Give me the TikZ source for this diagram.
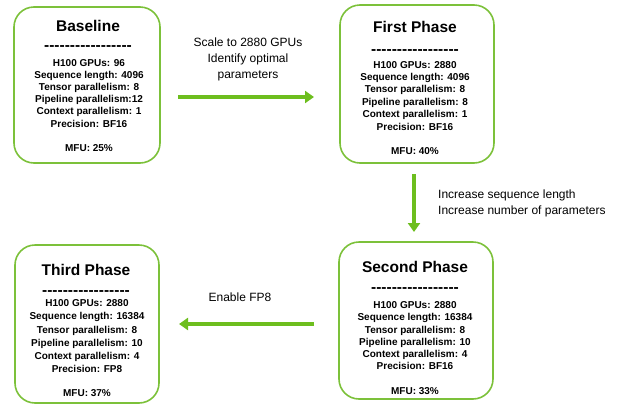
\documentclass[tikz,border=0pt]{standalone}
\usepackage{fontspec}
\setmainfont{Liberation Sans}
\usetikzlibrary{arrows.meta}
\definecolor{boxgreen}{HTML}{7CC13A}
\definecolor{arrowgreen}{HTML}{6DBE1E}
\newcommand\hyline{-\kern0pt-\kern0pt-\kern0pt-\kern0pt-\kern0pt-\kern0pt-\kern0pt-\kern0pt-\kern0pt-\kern0pt-\kern0pt-\kern0pt-\kern0pt-\kern0pt-\kern0pt-\kern0pt-}
\begin{document}
\begin{tikzpicture}[x=1pt,y=-1pt,
  phasebox/.style={draw=boxgreen,line width=1.6pt,rounded corners=20pt,fill=white,inner sep=0pt},
  titletext/.style={font=\fontsize{15.5}{18}\selectfont\bfseries,inner sep=0pt},
  dashtext/.style={font=\fontsize{15.5}{18}\selectfont\bfseries,inner sep=0pt,anchor=base,text height=6pt,text depth=0pt},
  bodytext/.style={align=center,inner sep=0pt,anchor=north},
  labeltext/.style={font=\fontsize{12}{15.7}\selectfont,inner sep=0pt},
  flow/.style={draw=arrowgreen,line width=3.5pt,-{Triangle[length=9pt,width=12pt]}}]
\useasboundingbox (0,0) rectangle (625,413);

% boxes
\node[phasebox,minimum width=146pt,minimum height=156pt] (base) at (87,85) {};
\node[phasebox,minimum width=154pt,minimum height=158pt] (first) at (417,84) {};
\node[phasebox,minimum width=154pt,minimum height=157pt] (second) at (416,320.5) {};
\node[phasebox,minimum width=144pt,minimum height=158pt] (third) at (87,324) {};

% Baseline
\node[titletext] (baseT) at (88,26) {Baseline};
\node[dashtext] (baseD) at (88,50.3) {\hyline};
\node[bodytext,font=\fontsize{10}{12.2}\selectfont\bfseries] (baseB) at (89,59) {H100 GPUs: 96\\Sequence length: 4096\\Tensor parallelism: 8\\Pipeline parallelism:12\\Context parallelism: 1\\Precision: BF16\\[12.2pt]MFU: 25\%};

% First Phase
\node[titletext] (firstT) at (415,27) {First Phase};
\node[dashtext] (firstD) at (415,54.3) {\hyline};
\node[bodytext,font=\fontsize{10}{12.4}\selectfont\bfseries] (firstB) at (415,61) {H100 GPUs: 2880\\Sequence length: 4096\\Tensor parallelism: 8\\Pipeline parallelism: 8\\Context parallelism: 1\\Precision: BF16\\[12.4pt]MFU: 40\%};

% Second Phase
\node[titletext] (secondT) at (415,267) {Second Phase};
\node[dashtext] (secondD) at (415,292.3) {\hyline};
\node[bodytext,font=\fontsize{10}{12.2}\selectfont\bfseries] (secondB) at (415,301.5) {H100 GPUs: 2880\\Sequence length: 16384\\Tensor parallelism: 8\\Pipeline parallelism: 10\\Context parallelism: 4\\Precision: BF16\\[12.2pt]MFU: 33\%};

% Third Phase
\node[titletext] (thirdT) at (86,270) {Third Phase};
\node[dashtext] (thirdD) at (86,295.3) {\hyline};
\node[bodytext,font=\fontsize{10}{13.2}\selectfont\bfseries] (thirdB) at (87,299.5) {H100 GPUs: 2880\\Sequence length: 16384\\Tensor parallelism: 8\\Pipeline parallelism: 10\\Context parallelism: 4\\Precision: FP8\\[11pt]MFU: 37\%};

% connectors
\coordinate (a1s) at (178,97);
\coordinate (a1e) at (314,97);
\draw[flow] (a1s) -- (a1e);
\node[labeltext,align=center,anchor=north] (lab1) at (248,38) {Scale to 2880 GPUs\\Identify optimal\\parameters};

\coordinate (a2s) at (414,174);
\coordinate (a2e) at (414,232);
\draw[flow] (a2s) -- (a2e);
\node[labeltext,align=left,anchor=north west] (lab2) at (438,190) {Increase sequence length\\Increase number of parameters};

\coordinate (a3s) at (314,324);
\coordinate (a3e) at (179,324);
\draw[flow] (a3s) -- (a3e);
\node[labeltext] (lab3) at (240,297) {Enable FP8};
\end{tikzpicture}
\end{document}
